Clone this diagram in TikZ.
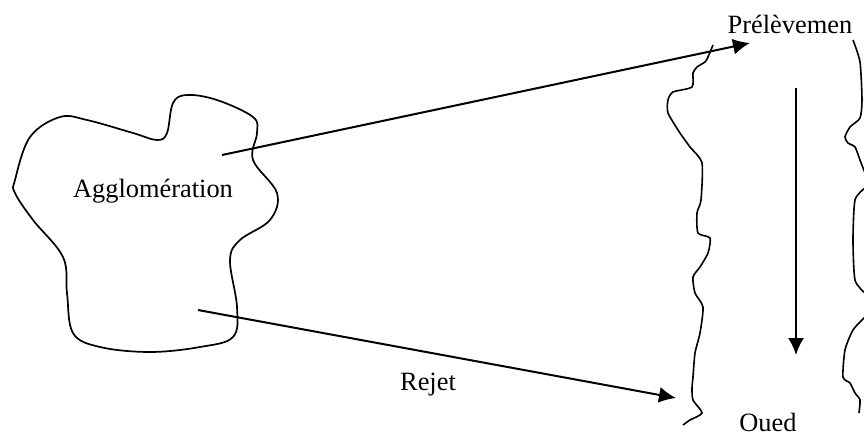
\documentclass[tikz,border=0pt]{standalone}
\usepackage{fontspec}
\setmainfont{Liberation Serif}
\usetikzlibrary{arrows.meta}
\tikzset{
  lbl/.style={inner sep=0pt, anchor=base, font=\fontsize{13.2}{16}\selectfont},
  outline/.style={line width=0.85pt, black},
  flow/.style={line width=1pt, black, -{Latex[length=8.5pt,width=8pt]}},
  bank/.style={line width=0.8pt, black},
}
\begin{document}
\begin{tikzpicture}[x=0.5pt,y=-0.5pt]
\useasboundingbox (0,0) rectangle (864,434);
% agglomeration outline
\draw[outline] plot[smooth cycle, tension=0.6] coordinates {
 (15,180) (30,137) (60,117) (87,120) (133,133) (157,140) (167,133) (173,103)
 (187,95) (217,100) (253,117) (257,133) (253,160) (277,193) (270,220) (240,240)
 (230,260) (237,307) (233,337) (200,347) (150,352) (100,347) (73,333) (67,293)
 (63,257) (33,220) (15,193)};
% river banks
\draw[bank] plot[smooth, tension=0.4] coordinates {
 (713,45) (708,57) (705,62) (697,67) (693,73) (692,87) (673,92) (668,100)
 (668,113) (680,133) (690,147) (702,163) (701,200) (697,213) (698,233) (710,238)
 (708,253) (700,267) (693,277) (695,293) (703,307) (700,333) (695,353) (693,377)
 (692,388) (693,400) (702,413) (690,420) (683,425)};
\draw[bank] plot[smooth, tension=0.4] coordinates {
 (853,40) (860,62) (862,100) (860,118) (850,127) (845,137) (848,143) (855,147)
 (860,160) (865,173)};
\draw[bank] plot[smooth, tension=0.4] coordinates {
 (865,188) (855,200) (853,240) (855,280) (865,293)};
\draw[bank] plot[smooth, tension=0.4] coordinates {
 (865,317) (853,330) (845,350) (843,377) (850,383) (855,393) (860,400) (859,413)};
% labels
\node[lbl] (agg) at (153,197) {Agglomération};
\node[lbl] (prel) at (790,33) {Prélèvemen};
\node[lbl] (rejet) at (428,390) {Rejet};
\node[lbl] (oued) at (768,431) {Oued};
% connector ends
\coordinate (aggTop) at (222,155);
\coordinate (aggBot) at (198,310);
\coordinate (prelEnd) at (750,43);
\coordinate (rejEnd) at (676,398);
\coordinate (flowA) at (796,88);
\coordinate (flowB) at (796,355);
\draw[flow] (aggTop) -- (prelEnd);
\draw[flow] (aggBot) -- (rejEnd);
\draw[flow] (flowA) -- (flowB);
\end{tikzpicture}
\end{document}
